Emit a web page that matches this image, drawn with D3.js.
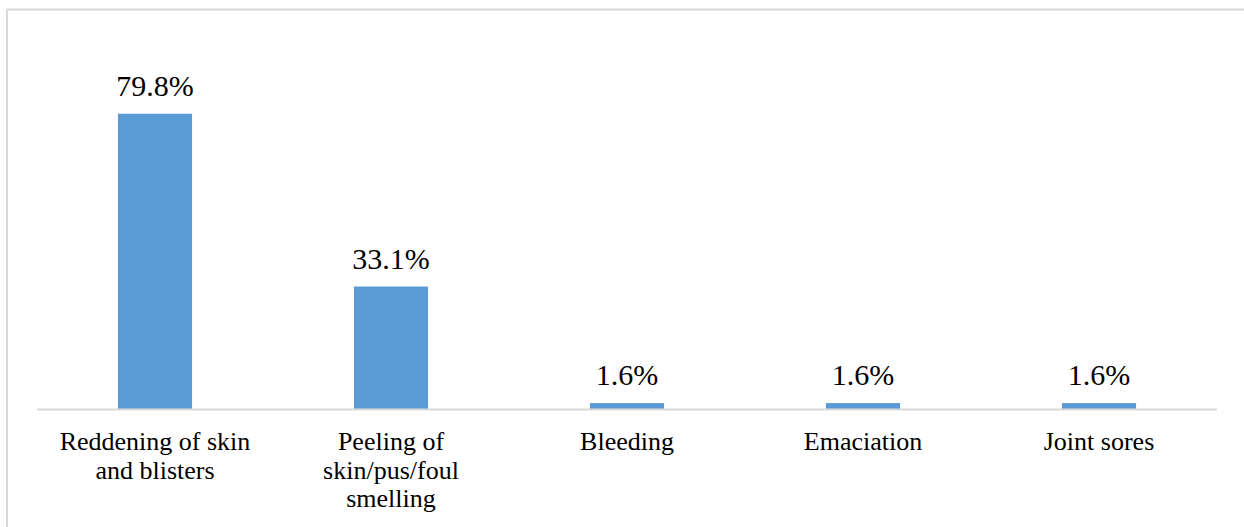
<!DOCTYPE html>
<html>
<head>
<meta charset="utf-8">
<script src="https://cdn.jsdelivr.net/npm/d3@7"></script>
<style>
	body { margin: 0; background: #fff; }
	#chart { position: relative; width: 1244px; height: 527px; overflow: hidden; }
	svg { display: block; position: absolute; left: 0; top: 0; }
	.lbl {
		position: absolute;
		font-family: "Liberation Serif", serif !important;
		color: #000;
		white-space: nowrap;
		text-align: center;
		transform: translateX(-50%);
	}
	.value { font-size: 30px; line-height: 30px; }
	.cat { font-size: 26px; line-height: 28.5px; }
</style>
</head>
<body>
<div id="chart"></div>
<script>

var categories = [
	["Reddening of skin", "and blisters"],
	["Peeling of", "skin/pus/foul", "smelling"],
	["Bleeding"],
	["Emaciation"],
	["Joint sores"]
];
var values = [79.8, 33.1, 1.6, 1.6, 1.6];
var valueLabels = ["79.8%", "33.1%", "1.6%", "1.6%", "1.6%"];

var width = 1244,
	height = 527;

var margin = {top: 76, left: 37, right: 27, baseline: 409};
var serif = "'Liberation Serif', serif";

var chart = d3.select("#chart");

var svg = chart.append("svg")
	.attr("width", width)
	.attr("height", height);

// chart frame (only top and left edges fall inside the picture)
svg.append("rect")
	.attr("x", 7)
	.attr("y", 9.5)
	.attr("width", width)
	.attr("height", height)
	.attr("fill", "none")
	.attr("stroke", "#d9d9d9")
	.attr("stroke-width", 2);

var x = d3.scaleBand()
	.domain(d3.range(values.length))
	.range([margin.left, width - margin.right])
	.paddingInner(0.686)
	.paddingOuter(0.343);

var y = d3.scaleLinear()
	.domain([0, 90])
	.range([margin.baseline, margin.top]);

// bars
svg.selectAll("rect.bar")
	.data(values)
	.enter().append("rect")
	.attr("class", "bar")
	.attr("x", function (d, i) { return x(i); })
	.attr("y", function (d) { return y(d); })
	.attr("width", x.bandwidth())
	.attr("height", function (d) { return y(0) - y(d); })
	.attr("fill", "#5b9bd5");

// baseline
svg.append("line")
	.attr("x1", margin.left)
	.attr("x2", width - margin.right)
	.attr("y1", y(0) + 0.5)
	.attr("y2", y(0) + 0.5)
	.attr("stroke", "#d9d9d9")
	.attr("stroke-width", 2);

// value labels
chart.selectAll("div.value")
	.data(values)
	.enter().append("div")
	.attr("class", "lbl value")
	.style("font-family", serif, "important")
	.style("left", function (d, i) { return (x(i) + x.bandwidth() / 2) + "px"; })
	.style("top", function (d) { return (y(d) - 18 - 25) + "px"; })
	.text(function (d, i) { return valueLabels[i]; });

// category labels
var cat = chart.selectAll("div.cat")
	.data(categories)
	.enter().append("div")
	.attr("class", "lbl cat")
	.style("font-family", serif, "important")
	.style("left", function (d, i) { return (x(i) + x.bandwidth() / 2) + "px"; })
	.style("top", (y(0) + 42 - 23) + "px");

cat.selectAll("div")
	.data(function (d) { return d; })
	.enter().append("div")
	.style("font-family", serif, "important")
	.text(function (d) { return d; });

</script>
</body>
</html>
